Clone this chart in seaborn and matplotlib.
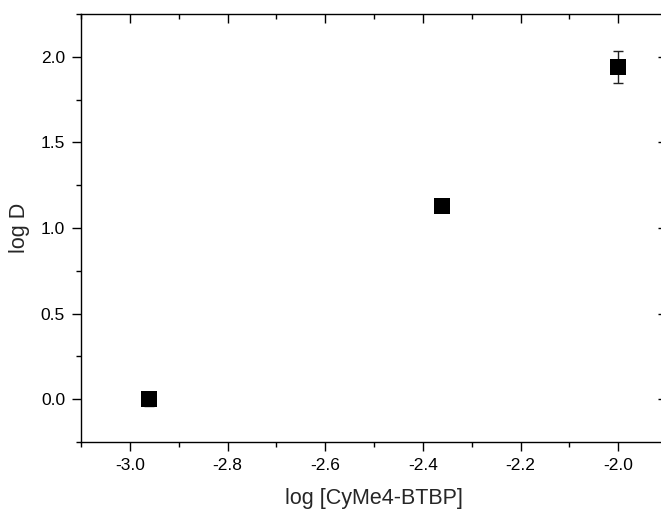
import matplotlib
matplotlib.use("Agg")
import matplotlib.pyplot as plt
import seaborn as sns
import pandas as pd
from matplotlib.ticker import MultipleLocator, FuncFormatter, NullFormatter

log_ligand = [-2.96, -2.36, -2.00]
log_D = [0.00, 1.13, 1.94]
log_D_err = [0.04, 0.03, 0.095]

x_label = "log [CyMe4-BTBP]"
y_label = "log D"

sns.set_style("ticks")
plt.rcParams["font.family"] = ["Liberation Sans", "DejaVu Sans"]

df = pd.DataFrame({"x": log_ligand, "y": log_D, "err": log_D_err})

fig = plt.figure(figsize=(6.61, 5.14), dpi=100)
rect = [81 / 661, (514 - 442) / 514, 586 / 661, 428 / 514]
ax = fig.add_axes(rect)

ax.errorbar(df["x"], df["y"], yerr=df["err"], fmt="none", ecolor="#222222",
            elinewidth=1.0, capsize=3.5, capthick=1.0, zorder=2)
sns.scatterplot(data=df, x="x", y="y", marker="s", s=125, color="black",
                edgecolor="black", linewidth=0, ax=ax, zorder=3, legend=False)

XLIM = (-3.1, -1.9)
YLIM = (-0.25, 2.25)
ax.set_xlim(*XLIM)
ax.set_ylim(*YLIM)
fmt = FuncFormatter(lambda v, p: f"{v:.1f}")
ax.xaxis.set_major_locator(MultipleLocator(0.2))
ax.xaxis.set_minor_locator(MultipleLocator(0.1))
ax.yaxis.set_major_locator(MultipleLocator(0.5))
ax.yaxis.set_minor_locator(MultipleLocator(0.25))
ax.xaxis.set_major_formatter(fmt)
ax.yaxis.set_major_formatter(fmt)

for sp in ["left", "bottom", "top"]:
    ax.spines[sp].set_visible(True)
    ax.spines[sp].set_linewidth(1.0)
    ax.spines[sp].set_color("black")
ax.spines["right"].set_visible(False)

ax.tick_params(axis="both", which="major", direction="out", length=6.5, width=1.0,
               color="black", labelsize=12.5, pad=5, labelcolor="black",
               top=False, right=False, bottom=True, left=True)
ax.tick_params(axis="both", which="minor", direction="out", length=3.8, width=1.0,
               color="black", top=False, right=False, bottom=True, left=True)

# top axis: inward ticks, no labels
axt = fig.add_axes(rect, frameon=False, sharex=ax)
axt.patch.set_visible(False)
axt.set_ylim(*YLIM)
axt.xaxis.tick_top()
axt.xaxis.set_major_locator(MultipleLocator(0.2))
axt.xaxis.set_minor_locator(MultipleLocator(0.1))
axt.tick_params(axis="x", which="both", labeltop=False, labelbottom=False,
                bottom=False, top=True, direction="in", color="black", width=1.0)
axt.tick_params(axis="x", which="major", length=6.5)
axt.tick_params(axis="x", which="minor", length=3.8)
axt.tick_params(axis="y", which="both", left=False, right=False,
                labelleft=False, labelright=False)

# right axis: inward ticks, no labels, spine hidden (cropped edge)
axr = fig.add_axes(rect, frameon=False, sharey=ax)
axr.patch.set_visible(False)
axr.set_xlim(*XLIM)
axr.yaxis.tick_right()
axr.yaxis.set_major_locator(MultipleLocator(0.5))
axr.yaxis.set_minor_locator(MultipleLocator(0.25))
axr.tick_params(axis="y", which="both", labelleft=False, labelright=False,
                left=False, right=True, direction="in", color="black", width=1.0)
axr.tick_params(axis="y", which="major", length=6.5)
axr.tick_params(axis="y", which="minor", length=3.8)
axr.tick_params(axis="x", which="both", top=False, bottom=False,
                labeltop=False, labelbottom=False)

ax.set_xlabel(x_label, fontsize=15.5, labelpad=11)
ax.set_ylabel(y_label, fontsize=15.5, labelpad=8)

fig.savefig("out.png", dpi=100)
